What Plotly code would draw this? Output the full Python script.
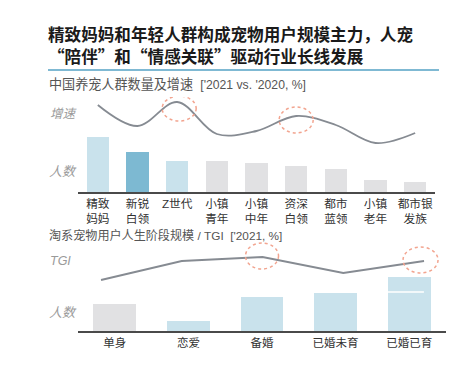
import plotly.graph_objects as go

# page window 454x390; the html body has an 8px margin, so the figure is 438x374
WIN_W, WIN_H = 454, 390
PAD = 8
W, H = WIN_W - 2 * PAD, WIN_H - 2 * PAD

# ---------------- text ----------------
title_text = "精致妈妈和年轻人群构成宠物用户规模主力，人宠<br>“陪伴”和“情感关联”驱动行业长线发展"
subtitle_top_cn = "中国养宠人群数量及增速"
subtitle_top_en = "['2021 vs. '2020, %]"
subtitle_bottom_cn = "淘系宠物用户人生阶段规模"
subtitle_bottom_en = "/ TGI  ['2021, %]"
label_growth = "增速"
label_people = "人数"
label_tgi = "TGI"

# ---------------- top chart data ----------------
top_categories = ["精致妈妈", "新锐白领", "Z世代", "小镇青年", "小镇中年",
                  "资深白领", "都市蓝领", "小镇老年", "都市银发族"]
top_tick_labels = ["精致<br>妈妈", "新锐<br>白领", "Z世代", "小镇<br>青年", "小镇<br>中年",
                   "资深<br>白领", "都市<br>蓝领", "小镇<br>老年", "都市银<br>发族"]
top_population = [55, 40, 31, 31, 29, 26, 23, 12, 10]
top_growth = [87, 66, 90, 58, 61, 76, 67, 49, 59]
top_group = ["focus", "accent", "focus", "other", "other", "other", "other", "other", "other"]
top_highlight = [2, 5]

# ---------------- bottom chart data ----------------
bottom_categories = ["单身", "恋爱", "备婚", "已婚未育", "已婚已育"]
bottom_population = [27, 10, 34, 38, 54]
bottom_tgi = [51, 70, 74, 58, 70]
bottom_group = ["other", "focus", "focus", "focus", "focus"]
bottom_highlight = [2, 4]
bottom_split_index = 4
bottom_split_value = 39

# ---------------- styles ----------------
palette = {"focus": "#c9e2ec", "accent": "#7db9d2", "other": "#e1e1e3"}
LINE_GRAY = "#868b92"
RING = "#f2a48f"
CJK = "Liberation Sans, Noto Sans CJK SC, sans-serif"


def py(p):
    return 1 - (p - PAD) / H


def px(p):
    return (p - PAD) / W


fig = go.Figure()

fig.add_trace(go.Bar(
    x=top_categories, y=top_population, xaxis="x", yaxis="y",
    marker=dict(color=[palette[g] for g in top_group], line=dict(width=0)),
    width=0.56, hoverinfo="skip"))
fig.add_trace(go.Scatter(
    x=top_categories, y=top_growth, xaxis="x", yaxis="y2", mode="lines",
    line=dict(color=LINE_GRAY, width=1.8, shape="spline", smoothing=1.0),
    hoverinfo="skip"))

fig.add_trace(go.Bar(
    x=bottom_categories, y=bottom_population, xaxis="x2", yaxis="y3",
    marker=dict(color=[palette[g] for g in bottom_group], line=dict(width=0)),
    width=0.58, hoverinfo="skip"))
fig.add_trace(go.Scatter(
    x=list(range(len(bottom_tgi))), y=bottom_tgi, xaxis="x3", yaxis="y3", mode="lines",
    line=dict(color=LINE_GRAY, width=1.8), hoverinfo="skip"))

shapes = []
# blue rule under title
shapes.append(dict(type="line", xref="paper", yref="paper", x0=px(48), x1=px(439),
                   y0=py(70), y1=py(70), line=dict(color="#7fb9d3", width=2)))
# rings on top chart
ring_top = {2: (-15, 19, -19, 6), 5: (-17, 17, -17, 9)}
for i in top_highlight:
    a, b, c, d = ring_top[i]
    shapes.append(dict(type="circle", xref="x", yref="y2", xsizemode="pixel", ysizemode="pixel",
                       xanchor=i, yanchor=top_growth[i], x0=a, x1=b, y0=c, y1=d,
                       line=dict(color=RING, width=1.5, dash="dot")))
ring_bot = {2: (-17, 16, -12, 14), 4: (-21, 14, -12, 14)}
for i in bottom_highlight:
    a, b, c, d = ring_bot[i]
    shapes.append(dict(type="circle", xref="x3", yref="y3", xsizemode="pixel", ysizemode="pixel",
                       xanchor=i, yanchor=bottom_tgi[i], x0=a, x1=b, y0=c, y1=d,
                       line=dict(color=RING, width=1.5, dash="dot")))
# white split inside last bottom bar
shapes.append(dict(type="line", xref="x2", yref="y3",
                   x0=bottom_split_index - 0.29, x1=bottom_split_index + 0.2,
                   y0=bottom_split_value, y1=bottom_split_value,
                   line=dict(color="white", width=1.5)))

annotations = []


def ann(text, x, y, size, color, bold=False, italic=False, family=CJK):
    annotations.append(dict(
        text=f"<b>{text}</b>" if bold else text, xref="paper", yref="paper",
        x=px(x), y=py(y), xanchor="left", yanchor="middle", align="left", showarrow=False,
        font=dict(size=size, color=color, family=family,
                  style="italic" if italic else "normal")))


ann(title_text, 46, 44.5, 16.6, "#1a1a1a", bold=True, family="Noto Sans CJK SC")
ann(f"{subtitle_top_cn}  <span style='font-size:12.2px'>{subtitle_top_en}</span>",
    47, 84, 13.1, "#555555")
ann(f"{subtitle_bottom_cn} <span style='font-size:11.8px'>{subtitle_bottom_en}</span>",
    47, 235, 12.1, "#555555")
ann(label_growth, 48, 114, 12.5, "#9a9a9a", italic=True)
ann(label_people, 47, 171, 13, "#9a9a9a", italic=True)
ann(label_tgi, 48, 261, 12.5, "#9a9a9a", italic=True)
ann(label_people, 47, 312, 13, "#9a9a9a", italic=True)

axis_common = dict(showgrid=False, zeroline=False, fixedrange=True)

fig.update_layout(
    width=W, height=H, margin=dict(l=0, r=0, t=0, b=0),
    paper_bgcolor="white", plot_bgcolor="rgba(0,0,0,0)",
    showlegend=False, bargap=0,
    font=dict(family=CJK),
    shapes=shapes, annotations=annotations,
    xaxis=dict(domain=[px(78), px(435)], anchor="y", type="category",
               tickvals=top_categories, ticktext=top_tick_labels,
               range=[-0.5, len(top_categories) - 0.5],
               showline=True, linecolor="#4a4a4a", linewidth=1.6, ticks="",
               tickfont=dict(size=11.7, color="#333333"), **axis_common),
    yaxis=dict(domain=[py(192), py(97)], anchor="x", range=[0, 95], visible=False, **axis_common),
    yaxis2=dict(overlaying="y", range=[0, 95], visible=False, **axis_common),
    xaxis2=dict(domain=[px(78), px(446)], anchor="y3", type="category",
                range=[-0.5, len(bottom_categories) - 0.5],
                showline=True, linecolor="#4a4a4a", linewidth=1.6, ticks="",
                tickfont=dict(size=11.5, color="#333333"), **axis_common),
    xaxis3=dict(overlaying="x2", range=[-0.285, 4.272], visible=False, **axis_common),
    yaxis3=dict(domain=[py(331), py(240)], anchor="x2", range=[0, 91], visible=False, **axis_common),
)

fig.write_html("out.html")
